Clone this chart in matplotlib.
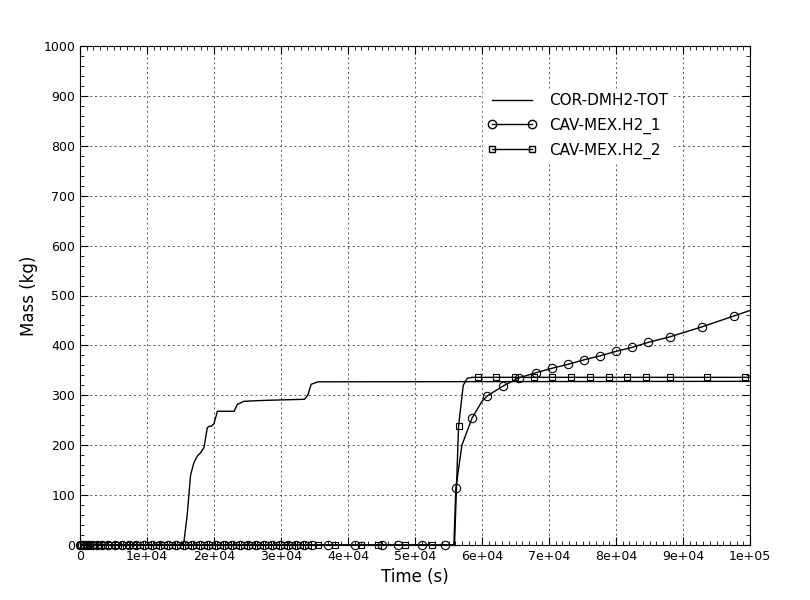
import matplotlib.pyplot as plt
from matplotlib.ticker import MultipleLocator

# COR-DMH2-TOT (line only)
cor_t = [0, 15000, 15500, 16000, 16500, 17000, 17500, 18000, 18500, 19000, 19300, 19600, 20000,
         20500, 21000, 23000, 23500, 24500, 26000, 28000, 33500, 34000, 34500, 35500, 100000]
cor_m = [0, 0, 5, 60, 140, 165, 178, 185, 195, 235, 238, 238, 243,
         268, 268, 268, 282, 288, 289, 290, 292, 300, 322, 327, 328]

# CAV-MEX.H2_1 line and markers
h1_t = [0, 55800, 56100, 57000, 58500, 60000, 60800, 63200, 65500, 68000, 70400, 72800, 75200,
        77600, 80000, 82400, 84800, 88000, 92800, 97600, 100000]
h1_m = [0, 0, 114, 200, 254, 288, 299, 319, 335, 345, 354, 362, 371,
        379, 388, 396, 406, 417, 437, 459, 470]
h1_mark_t = [0, 300, 700, 1200, 1800, 2500, 3300, 4200, 5200, 6200, 7300, 8400, 9500, 10700,
             11900, 13100, 14300, 15500, 16700, 17900, 19100, 20300, 21500, 22700, 23900, 25100,
             26300, 27500, 28700, 29900, 31100, 32300, 33500, 34700, 37000, 41000, 45000, 47500,
             51000, 54500, 56100, 58500, 60800, 63200, 65500, 68000, 70400, 72800, 75200, 77600,
             80000, 82400, 84800, 88000, 92800, 97600]
h1_mark_m = [0] * 40 + [114, 254, 299, 319, 335, 345, 354, 362, 371, 379, 388, 396, 406, 417, 437, 459]

# CAV-MEX.H2_2 line and markers
h2_t = [0, 55900, 56500, 57200, 57800, 58500, 100000]
h2_m = [0, 0, 238, 320, 334, 336, 336]
h2_mark_t = [0, 500, 1000, 1500, 2100, 2800, 3700, 4700, 5700, 6800, 7900, 9000, 10100, 11300,
             12500, 13700, 14900, 16100, 17300, 18500, 19700, 20900, 22100, 23300, 24500, 25700,
             26900, 28100, 29300, 30500, 31700, 32900, 34100, 35500, 38000, 42000, 44500, 48500,
             52500, 56500, 59400, 62100, 64900, 67700, 70500, 73300, 76100, 78900, 81700, 84500,
             88100, 93600, 99300]
h2_mark_m = [0] * 39 + [238, 336, 336, 336, 336, 336, 336, 336, 336, 336, 336, 336, 336, 336]

x_ticks = [0, 10000, 20000, 30000, 40000, 50000, 60000, 70000, 80000, 90000, 100000]
x_labels = ["0", "1e+04", "2e+04", "3e+04", "4e+04", "5e+04", "6e+04", "7e+04", "8e+04", "9e+04", "1e+05"]

fig = plt.figure(figsize=(8.1, 6.0), dpi=100)
ax = fig.add_axes([80 / 810, 1 - 545 / 600, 670 / 810, 499 / 600])

ax.plot(cor_t, cor_m, color="black", lw=1.0, label="COR-DMH2-TOT")
ax.plot(h1_t, h1_m, color="black", lw=1.0)
ax.plot(h1_mark_t, h1_mark_m, ls="none", marker="o", ms=6, mfc="none", mec="black", mew=0.8, clip_on=False)
ax.plot(h2_t, h2_m, color="black", lw=1.0)
ax.plot(h2_mark_t, h2_mark_m, ls="none", marker="s", ms=5, mfc="none", mec="black", mew=0.8, clip_on=False)

# legend proxies
ax.plot([], [], color="black", lw=1.0, marker="o", ms=6, mfc="none", label="CAV-MEX.H2_1")
ax.plot([], [], color="black", lw=1.0, marker="s", ms=5, mfc="none", label="CAV-MEX.H2_2")
ax.legend(loc="upper left", bbox_to_anchor=(0.59, 0.93), numpoints=2, handlelength=3.2,
          frameon=True, fancybox=False, edgecolor="white", framealpha=1, fontsize=11,
          borderpad=0.3, labelspacing=0.6)

ax.set_xlim(0, 100000)
ax.set_ylim(0, 1000)
ax.set_xticks(x_ticks)
ax.set_xticklabels(x_labels)
ax.xaxis.set_minor_locator(MultipleLocator(1000))
ax.yaxis.set_major_locator(MultipleLocator(100))
ax.yaxis.set_minor_locator(MultipleLocator(20))
ax.tick_params(which="both", direction="in", top=True, right=True, labelsize=9)
ax.tick_params(which="major", length=6)
ax.tick_params(which="minor", length=3)
ax.grid(True, which="major", ls=(0, (2, 3)), color="#555555", lw=0.7)
ax.set_xlabel("Time (s)", fontsize=12)
ax.set_ylabel("Mass (kg)", fontsize=12)

fig.savefig("out.png", dpi=100)
